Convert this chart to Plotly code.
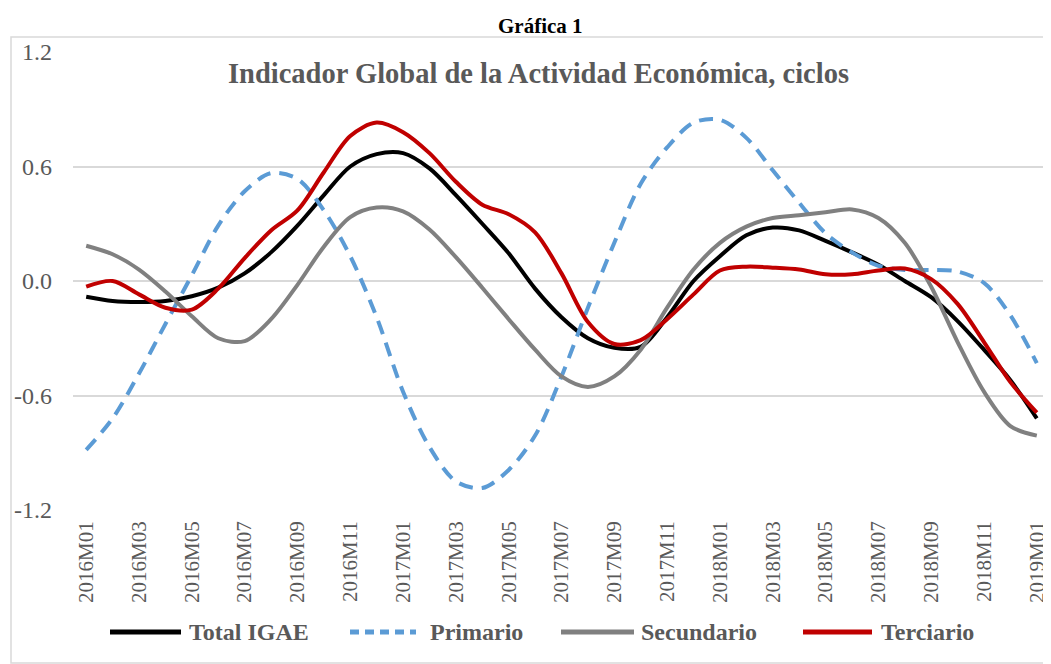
import plotly.graph_objects as go

months = [f"{y}M{m:02d}" for y in (2016, 2017, 2018) for m in range(1, 13)] + ["2019M01"]
tick_labels = months[::2]

total_igae = [-0.083, -0.105, -0.11, -0.105, -0.08, -0.035, 0.04, 0.15, 0.29, 0.45,
              0.60, 0.665, 0.67, 0.59, 0.45, 0.30, 0.145, -0.04, -0.19, -0.30,
              -0.35, -0.345, -0.19, 0.0, 0.13, 0.24, 0.28, 0.265, 0.21, 0.15,
              0.085, 0.0, -0.085, -0.21, -0.36, -0.52, -0.72]
primario = [-0.885, -0.72, -0.485, -0.225, 0.03, 0.29, 0.47, 0.565, 0.535, 0.37,
            0.13, -0.19, -0.58, -0.87, -1.05, -1.085, -0.99, -0.81, -0.50, -0.14,
            0.20, 0.51, 0.70, 0.83, 0.845, 0.75, 0.58, 0.41, 0.25, 0.15,
            0.08, 0.058, 0.058, 0.05, -0.01, -0.18, -0.43]
secundario = [0.185, 0.14, 0.06, -0.055, -0.185, -0.30, -0.315, -0.20, -0.02, 0.18,
              0.335, 0.385, 0.365, 0.27, 0.125, -0.035, -0.20, -0.36, -0.50, -0.555,
              -0.50, -0.36, -0.14, 0.06, 0.20, 0.285, 0.33, 0.345, 0.36, 0.375,
              0.33, 0.20, -0.03, -0.32, -0.58, -0.76, -0.81]
terciario = [-0.03, 0.0, -0.07, -0.14, -0.15, -0.04, 0.12, 0.265, 0.37, 0.57,
             0.76, 0.83, 0.78, 0.67, 0.52, 0.40, 0.35, 0.255, 0.04, -0.215,
             -0.33, -0.31, -0.20, -0.07, 0.055, 0.075, 0.07, 0.06, 0.035, 0.035,
             0.055, 0.065, 0.01, -0.12, -0.32, -0.53, -0.69]

series = [
    ("Total IGAE", total_igae, "#000000", "solid"),
    ("Primario", primario, "#5B9BD5", "14px,9px"),
    ("Secundario", secundario, "#808080", "solid"),
    ("Terciario", terciario, "#C00000", "solid"),
]

FONT = "Liberation Serif"
fig = go.Figure()
for name, vals, color, dash in series:
    fig.add_trace(go.Scatter(
        x=months, y=vals, name=name, mode="lines", showlegend=False,
        line=dict(color=color, width=4, dash=dash, shape="spline", smoothing=0.9),
    ))

# page offset (default body margin) compensation
OFF = 8
W, H = 1051 - OFF, 664 - OFF
L, R, T, B = 73 - OFF, 1, 52 - OFF, 154
pw, ph = W - L - R, H - T - B

def px(x):
    return (x - OFF - L) / pw

def py(y):
    return (H - B - (y - OFF)) / ph

shapes = [dict(
    type="rect", xref="paper", yref="paper",
    x0=px(11), x1=px(1050), y0=py(663), y1=py(37),
    line=dict(color="#D9D9D9", width=1.5), fillcolor="rgba(0,0,0,0)", layer="below",
)]
annotations = [
    dict(text="<b>Gráfica 1</b>", xref="paper", yref="paper", x=px(540), y=py(26),
         xanchor="center", yanchor="middle", showarrow=False,
         font=dict(family=FONT, size=21, color="#000000")),
    dict(text="<b>Indicador Global de la Actividad Económica, ciclos</b>",
         xref="paper", yref="paper", x=px(538), y=py(73),
         xanchor="center", yanchor="middle", showarrow=False,
         font=dict(family=FONT, size=28.5, color="#595959")),
]

# legend (symbols + labels)
legend_pos = [(110, 181, 187), (350, 416, 428), (561, 634, 639), (803, 872, 879)]
LEG_Y = 632
for (name, _, color, dash), (x0, x1, xt) in zip(series, legend_pos):
    shapes.append(dict(
        type="line", xref="paper", yref="paper",
        x0=px(x0), x1=px(x1), y0=py(LEG_Y), y1=py(LEG_Y),
        line=dict(color=color, width=5, dash="9px,6px" if dash != "solid" else "solid"),
    ))
    annotations.append(dict(
        text=f"<b>{name}</b>", xref="paper", yref="paper", x=px(xt), y=py(LEG_Y),
        xanchor="left", yanchor="middle", showarrow=False,
        font=dict(family=FONT, size=24, color="#595959"),
    ))

fig.update_layout(
    width=W, height=H,
    margin=dict(l=L, r=R, t=T, b=B),
    paper_bgcolor="white", plot_bgcolor="white",
    font=dict(family=FONT, color="#595959", size=20),
    showlegend=False,
    xaxis=dict(
        type="category", categoryorder="array", categoryarray=months,
        tickmode="array", tickvals=tick_labels, ticktext=tick_labels,
        tickangle=-90, showgrid=False, showline=False, ticks="",
        range=[-0.5, len(months) - 0.5],
        tickfont=dict(family=FONT, size=21, color="#595959"),
        ticklabelstandoff=6,
    ),
    yaxis=dict(
        range=[-1.2, 1.2], tickvals=[-1.2, -0.6, 0.0, 0.6, 1.2],
        ticktext=["-1.2", "-0.6", "0.0", "0.6", "1.2"],
        showgrid=True, gridcolor="#D9D9D9", gridwidth=1.5,
        zeroline=False, showline=False, ticks="",
        tickfont=dict(family=FONT, size=24, color="#595959"),
        ticklabelstandoff=20,
    ),
    shapes=shapes,
    annotations=annotations,
)

fig.write_html("out.html")
